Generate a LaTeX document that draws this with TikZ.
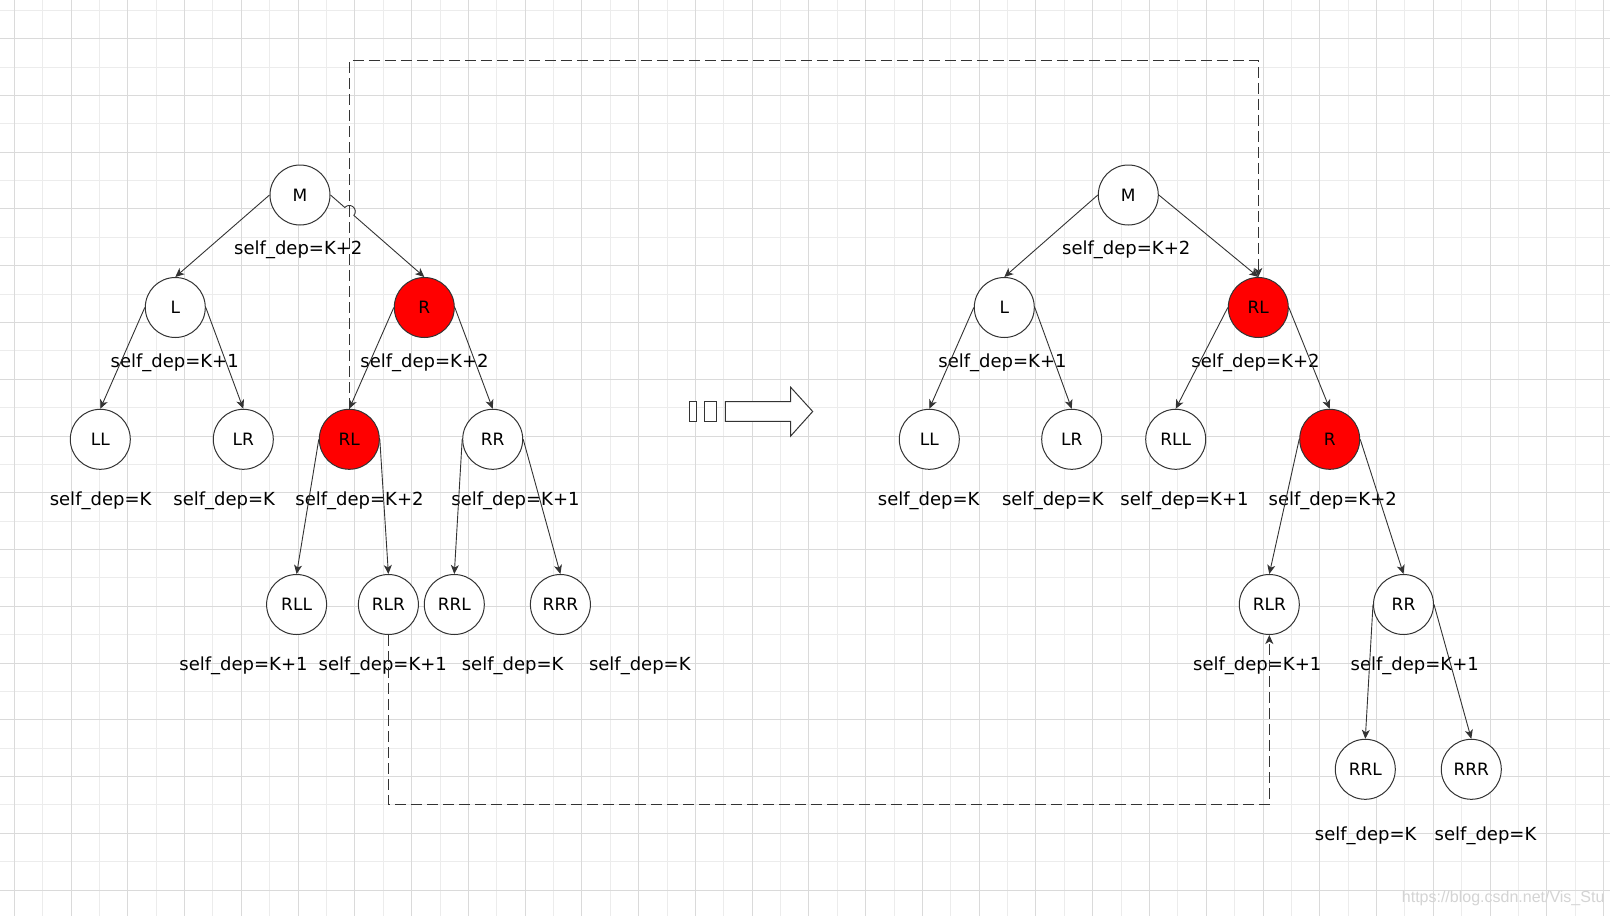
\documentclass[tikz,border=0pt]{standalone}
\usepackage{fontspec}
\setmainfont{DejaVu Sans}
\newfontfamily\wmfont{Liberation Sans}
\usetikzlibrary{arrows.meta,calc}
\definecolor{ln}{HTML}{333333}
\definecolor{gmaj}{RGB}{218,218,218}
\definecolor{gmin}{RGB}{236,236,236}
\definecolor{wmc}{RGB}{212,212,212}
\begin{document}
\begin{tikzpicture}[x=1pt,y=-1pt,
  tn/.style={circle,draw=ln,line width=1pt,minimum size=60pt,inner sep=0pt,fill=white,font=\fontsize{17}{20}\selectfont},
  rn/.style={tn,fill=red},
  lab/.style={anchor=base,inner sep=0pt,font=\fontsize{18}{21}\selectfont},
  edge/.style={draw=ln,line width=0.9pt,-{Stealth[length=9pt,width=8pt,inset=2.5pt]}},
  dsh/.style={draw=ln,line width=1.2pt,dash pattern=on 11pt off 5pt,-{Stealth[length=9pt,width=8pt,inset=2.5pt]}},
  tofu/.style={draw=ln,line width=1pt,fill=white,inner sep=0pt,minimum height=19.6pt}]
\useasboundingbox (0,0) rectangle (1610,916);
\fill[white] (0,0) rectangle (1610,916);
% grid
\foreach \i in {1,3,...,55}{\pgfmathsetmacro\gx{14.3+28.38*\i}\draw[gmin,line width=1pt] (\gx,0) -- (\gx,916);}
\foreach \i in {0,2,...,32}{\pgfmathsetmacro\gy{10.3+28.38*\i}\draw[gmin,line width=1pt] (0,\gy) -- (1610,\gy);}
\foreach \i in {0,2,...,56}{\pgfmathsetmacro\gx{14.3+28.38*\i}\draw[gmaj,line width=1pt] (\gx,0) -- (\gx,916);}
\foreach \i in {1,3,...,31}{\pgfmathsetmacro\gy{10.3+28.38*\i}\draw[gmaj,line width=1pt] (0,\gy) -- (1610,\gy);}

% ---------- left tree ----------
\node[tn] (lM) at (300,195) {M};
\node[tn] (lL) at (175.3,307.5) {L};
\node[rn] (lR) at (424.3,307.5) {R};
\node[tn] (lLL) at (100.3,439.3) {LL};
\node[tn] (lLR) at (243.3,439.3) {LR};
\node[rn] (lRL) at (349.3,439.3) {RL};
\node[tn] (lRR) at (492.7,439.3) {RR};
\node[tn] (lRLL) at (296.6,604.5) {RLL};
\node[tn] (lRLR) at (388.4,604.5) {RLR};
\node[tn] (lRRL) at (454.3,604.5) {RRL};
\node[tn] (lRRR) at (560.4,604.5) {RRR};

\node[lab] (lMt) at (298.3,254.3) {self\_dep=K+2};
\node[lab] (lLt) at (174.7,367.6) {self\_dep=K+1};
\node[lab] (lRt) at (424.5,367.6) {self\_dep=K+2};
\node[lab] (lLLt) at (100.6,505.8) {self\_dep=K};
\node[lab] (lLRt) at (224.2,505.8) {self\_dep=K};
\node[lab] (lRLt) at (359.5,505.8) {self\_dep=K+2};
\node[lab] (lRRt) at (515.5,505.8) {self\_dep=K+1};
\node[lab] (lRLLt) at (243.5,670.8) {self\_dep=K+1};
\node[lab] (lRLRt) at (382.8,670.8) {self\_dep=K+1};
\node[lab] (lRRLt) at (512.6,670.8) {self\_dep=K};
\node[lab] (lRRRt) at (639.8,670.8) {self\_dep=K};

\draw[edge] (lM.west) -- (lL.north);
\coordinate (jc) at (intersection of lM.east--lR.north and lRL.north--lRL.south);
\draw[edge] (lM.east) -- ($(jc)!6pt!(lM.east)$) arc[start angle=221.2, end angle=401.2, radius=6] -- (lR.north);
\draw[edge] (lL.west) -- (lLL.north);
\draw[edge] (lL.east) -- (lLR.north);
\draw[edge] (lR.west) -- (lRL.north);
\draw[edge] (lR.east) -- (lRR.north);
\draw[edge] (lRL.west) -- (lRLL.north);
\draw[edge] (lRL.east) -- (lRLR.north);
\draw[edge] (lRR.west) -- (lRRL.north);
\draw[edge] (lRR.east) -- (lRRR.north);

% ---------- middle arrow ----------
\node[tofu,minimum width=7.4pt] (b1) at (693,411.5) {};
\node[tofu,minimum width=12.4pt] (b2) at (710.5,411.5) {};
\draw[ln,line width=1pt,fill=white] (725.3,401.7) -- (790.7,401.7) -- (790.7,387.3) -- (812.7,411.5) -- (790.7,436) -- (790.7,421.3) -- (725.3,421.3) -- cycle;

% ---------- right tree ----------
\node[tn] (rM) at (1128.3,195) {M};
\node[tn] (rL) at (1004.3,307.5) {L};
\node[rn] (rRL) at (1258.3,307.5) {RL};
\node[tn] (rLL) at (929.3,439.3) {LL};
\node[tn] (rLR) at (1071.7,439.3) {LR};
\node[tn] (rRLL) at (1175.7,439.3) {RLL};
\node[rn] (rR) at (1329.7,439.3) {R};
\node[tn] (rRLR) at (1269.3,604.5) {RLR};
\node[tn] (rRR) at (1403.5,604.5) {RR};
\node[tn] (rRRL) at (1365.3,769.3) {RRL};
\node[tn] (rRRR) at (1471.3,769.3) {RRR};

\node[lab] (rMt) at (1126.2,254.3) {self\_dep=K+2};
\node[lab] (rLt) at (1002.5,367.6) {self\_dep=K+1};
\node[lab] (rRLt) at (1255.5,367.6) {self\_dep=K+2};
\node[lab] (rLLt) at (928.7,505.8) {self\_dep=K};
\node[lab] (rLRt) at (1052.8,505.8) {self\_dep=K};
\node[lab] (rRLLt) at (1184.5,505.8) {self\_dep=K+1};
\node[lab] (rRt) at (1332.7,505.8) {self\_dep=K+2};
\node[lab] (rRLRt) at (1257.2,670.9) {self\_dep=K+1};
\node[lab] (rRRt) at (1414.7,670.9) {self\_dep=K+1};
\node[lab] (rRRLt) at (1365.7,840.9) {self\_dep=K};
\node[lab] (rRRRt) at (1485.5,840.9) {self\_dep=K};

\draw[edge] (rM.west) -- (rL.north);
\draw[edge] (rM.east) -- (rRL.north);
\draw[edge] (rL.west) -- (rLL.north);
\draw[edge] (rL.east) -- (rLR.north);
\draw[edge] (rRL.west) -- (rRLL.north);
\draw[edge] (rRL.east) -- (rR.north);
\draw[edge] (rR.west) -- (rRLR.north);
\draw[edge] (rR.east) -- (rRR.north);
\draw[edge] (rRR.west) -- (rRRL.north);
\draw[edge] (rRR.east) -- (rRRR.north);

% ---------- dashed connectors ----------
\coordinate (topc) at (800,60.3);
\coordinate (botc) at (800,804.3);
\draw[dsh] (lRL.north) |- (topc) -| (rRL.north);
\draw[dsh] (lRLR.south) |- (botc) -| (rRLR.south);

% watermark
\node[anchor=base west,inner sep=0pt,text=wmc,font=\wmfont\fontsize{16}{19}\selectfont] (wm) at (1401.7,902.7) {https://blog.csdn.net/Vis\_Stu};
\end{tikzpicture}
\end{document}
